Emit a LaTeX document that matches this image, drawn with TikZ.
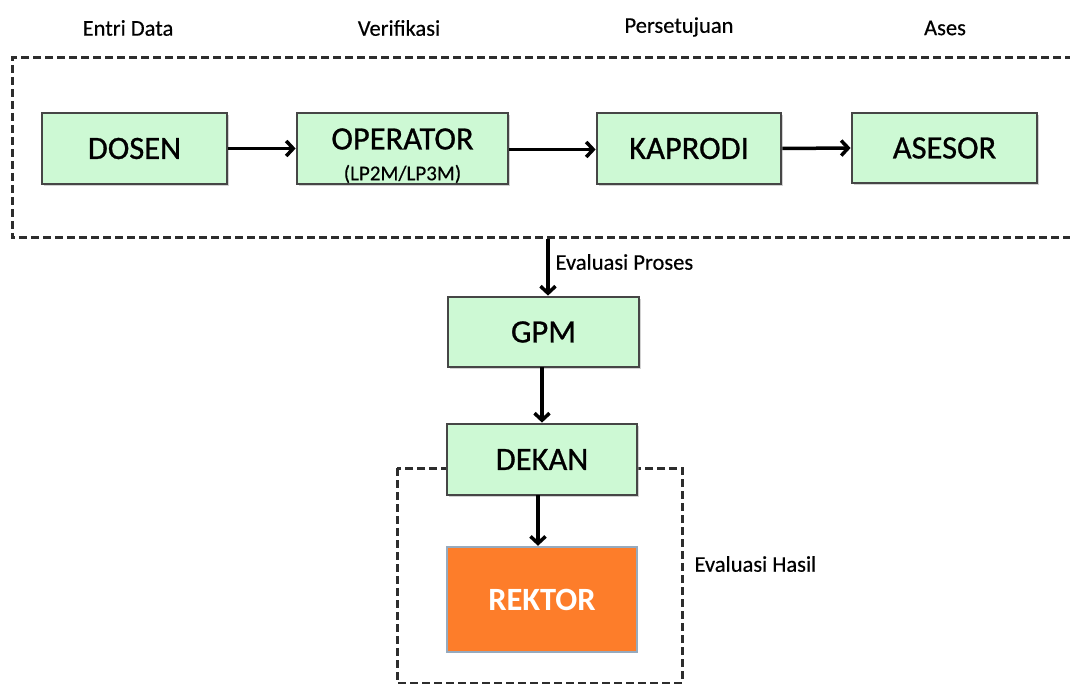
\documentclass[tikz,border=0pt]{standalone}
\usepackage{fontspec}
\setmainfont{Carlito}
\usetikzlibrary{arrows.meta,shadows}
\definecolor{boxgreen}{RGB}{205,249,212}
\definecolor{boxedge}{RGB}{70,70,70}
\definecolor{rektororange}{RGB}{253,125,42}
\definecolor{rektoredge}{RGB}{150,170,190}
\definecolor{frameline}{RGB}{45,45,45}
\newfontfamily\boxfont[FakeBold=0.8]{Carlito}
\newfontfamily\labelfont[FakeBold=0.4]{Carlito}
\tikzset{
  role/.style={draw=boxedge, line width=2.8pt, fill=boxgreen, inner sep=0pt,
    font=\boxfont\fontsize{32.5}{34}\selectfont,
    drop shadow={shadow xshift=1.8pt, shadow yshift=-1.8pt, fill=black!35}},
  finalbox/.style={draw=rektoredge, line width=2.4pt, fill=rektororange, inner sep=0pt,
    text=white, font=\fontsize{32.5}{34}\selectfont\bfseries},
  phase/.style={font=\labelfont\fontsize{22.5}{25}\selectfont},
  frame/.style={draw=frameline, line width=3pt, dash pattern=on 8pt off 4pt},
  flow/.style={line width=3.5pt, -{Straight Barb[length=7pt,width=15pt,line width=3.5pt]}}
}
\begin{document}
\begin{tikzpicture}[x=1pt,y=-1pt]
\useasboundingbox (0,0) rectangle (1070,684);
\clip (0,0) rectangle (1070,684);

% phase headings
\node[phase] (hEntri) at (128,28) {Entri Data};
\node[phase] (hVer) at (399,28) {Verifikasi};
\node[phase] (hPer) at (679,27) {Persetujuan};
\node[phase] (hAses) at (945,28) {Ases};

% dashed frames
\draw[frame] (1085,58) -- (12,58) -- (12,238) -- (1085,238);
\draw[frame] (397,468) rectangle (682,683);

% process row
\node[role, minimum width=185pt, minimum height=71pt] (dosen) at (134.5,148.5) {DOSEN};
\node[role, minimum width=211pt, minimum height=71pt] (operator) at (402.5,148.5) {};
\node (opname) at (402.5,139) {\boxfont\fontsize{32.5}{34}\selectfont OPERATOR};
\node (opsub) at (402.5,174) {\labelfont\fontsize{21}{23}\selectfont (LP2M/LP3M)};
\node[role, minimum width=184pt, minimum height=71pt] (kaprodi) at (689,148.5) {KAPRODI};
\node[role, minimum width=185pt, minimum height=70pt] (asesor) at (944.5,148) {ASESOR};

\draw[flow] (dosen.east) -- (operator.west);
\draw[flow] ([yshift=-1pt]operator.east) -- ([yshift=-1pt]kaprodi.west);
\draw[flow] (kaprodi.east) -- (asesor.west);

% evaluation chain
\node[role, minimum width=191pt, minimum height=70pt] (gpm) at (543.5,332) {GPM};
\node[role, minimum width=190pt, minimum height=71pt] (dekan) at (542,459.5) {DEKAN};
\node[finalbox, minimum width=190pt, minimum height=105pt] (rektor) at (542,599.5) {REKTOR};

\coordinate (procout) at (548,239);
\draw[flow] (procout) -- (procout |- gpm.north);
\node[phase, anchor=west] (lblProses) at (552,262) {Evaluasi Proses};
\coordinate (gpmout) at (542,367);
\draw[flow] (gpmout) -- (gpmout |- dekan.north);
\coordinate (dekanout) at (538,495);
\draw[flow] (dekanout) -- (dekanout |- rektor.north);
\node[phase, anchor=west] (lblHasil) at (691,564) {Evaluasi Hasil};
\end{tikzpicture}
\end{document}
